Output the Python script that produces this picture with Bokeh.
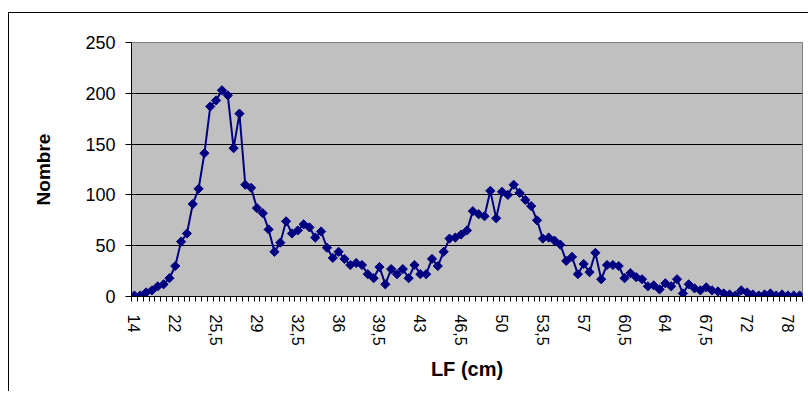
import math
from bokeh.plotting import figure
from bokeh.layouts import column
from bokeh.models import Range1d, FixedTicker, ColumnDataSource, Div
from bokeh.embed import file_html
from bokeh.resources import INLINE

categories = [
    "14", "16", "17", "18", "19", "20", "21", "22",
    "22,5", "23", "23,5", "24", "24,5", "25", "25,5", "26", "26,5", "27", "27,5",
    "28", "28,5", "29", "29,5", "30", "30,5", "31", "31,5", "32", "32,5", "33",
    "33,5", "34", "34,5", "35", "35,5", "36", "36,5", "37", "37,5", "38", "38,5",
    "39", "39,5", "40", "40,5", "41", "41,5", "42", "42,5", "43", "43,5", "44",
    "44,5", "45", "45,5", "46", "46,5", "47", "47,5", "48", "48,5", "49", "49,5",
    "50", "50,5", "51", "51,5", "52", "52,5", "53", "53,5", "54", "54,5", "55",
    "55,5", "56", "56,5", "57", "57,5", "58", "58,5", "59", "59,5", "60", "60,5",
    "61", "61,5", "62", "62,5", "63", "63,5", "64", "64,5", "65", "65,5", "66",
    "66,5", "67", "67,5",
    "68", "68,5", "69", "70", "70,5", "71", "72",
    "73", "74", "75", "75,5", "76", "77", "78",
    "79", "80",
]

nombre = [
    1, 1, 4, 6, 10, 12, 18, 30, 54, 62,
    91, 106, 141, 187, 193, 203, 198, 146, 180, 110,
    107, 87, 82, 66, 44, 53, 74, 62, 65, 71,
    68, 58, 64, 48, 38, 44, 37, 31, 33, 31,
    22, 18, 29, 12, 27, 22, 27, 18, 31, 22,
    22, 37, 30, 44, 57, 58, 61, 65, 84, 81,
    79, 104, 77, 103, 100, 110, 102, 95, 89, 75,
    57, 58, 55, 51, 35, 39, 22, 32, 24, 43,
    17, 31, 31, 30, 18, 23, 19, 17, 10, 11,
    7, 13, 10, 17, 3, 12, 8, 6, 9, 6,
    5, 3, 2, 1, 6, 4, 2, 1, 2, 3,
    1, 2, 1, 1, 1,
]

label_step = 7
y_ticks = [0, 50, 100, 150, 200, 250]

idx = list(range(len(categories)))
src = ColumnDataSource(dict(x=idx, y=nombre, cat=categories))

p = figure(
    width=795, height=378,
    x_range=Range1d(-0.5, len(categories) - 0.5),
    y_range=Range1d(0, 250),
    output_backend="svg", toolbar_location=None,
    min_border_left=122, min_border_right=2,
    min_border_top=29, min_border_bottom=95,
    background_fill_color="#C0C0C0",
    border_fill_color="white",
    outline_line_color="#808080",
    margin=(0, 0, 0, 0),
    styles={"border-left": "1px solid black"},
)

p.line("x", "y", source=src, line_color="#000080", line_width=2)
p.scatter("x", "y", source=src, marker="square", angle=math.pi / 4, size=6.5,
          fill_color="#000080", line_color="#000080")

# x axis: category labels every 7 categories, tick marks at category boundaries
major = idx[::label_step]
p.xaxis.ticker = FixedTicker(ticks=major,
                             minor_ticks=[i - 0.5 for i in range(len(categories) + 1)])
p.xaxis.major_label_overrides = {float(i): categories[i] for i in major}
p.xaxis.major_label_orientation = "vertical"
p.xaxis.major_tick_line_color = None
p.xaxis.major_tick_out = 0
p.xaxis.major_tick_in = 0
p.xaxis.minor_tick_line_color = "black"
p.xaxis.minor_tick_out = 5
p.xaxis.minor_tick_in = 0
p.xaxis.major_label_standoff = 13
p.xaxis.major_label_text_font = "Liberation Sans"
p.xaxis.major_label_text_font_size = "16px"
p.xaxis.major_label_text_color = "black"
p.xaxis.axis_label = "LF (cm)"
p.xaxis.axis_label_text_font = "Liberation Sans"
p.xaxis.axis_label_text_font_style = "bold"
p.xaxis.axis_label_text_font_size = "20px"
p.xaxis.axis_label_text_color = "black"
p.xaxis.axis_label_standoff = 9
p.xaxis.axis_line_color = "black"

p.yaxis.ticker = FixedTicker(ticks=y_ticks)
p.yaxis.minor_tick_line_color = None
p.yaxis.major_tick_out = 6
p.yaxis.major_tick_in = 0
p.yaxis.major_tick_line_color = "black"
p.yaxis.major_label_standoff = 10
p.yaxis.major_label_text_font = "Liberation Sans"
p.yaxis.major_label_text_font_size = "18px"
p.yaxis.major_label_text_color = "black"
p.yaxis.axis_label = "Nombre"
p.yaxis.axis_label_text_font = "Liberation Sans"
p.yaxis.axis_label_text_font_style = "bold"
p.yaxis.axis_label_text_font_size = "19px"
p.yaxis.axis_label_text_color = "black"
p.yaxis.axis_label_standoff = 28
p.yaxis.axis_line_color = "black"

p.xgrid.grid_line_color = None
p.ygrid.grid_line_color = "black"
p.ygrid.grid_line_width = 1

# thin black line forming the top edge of the chart box
top_edge = Div(text="", width=800, height=1, margin=(0, 0, 0, 0),
               styles={"background-color": "black"})

layout = column(top_edge, p, spacing=0, margin=(12, 0, 0, 8))

open("out.html", "w").write(file_html(layout, INLINE))
